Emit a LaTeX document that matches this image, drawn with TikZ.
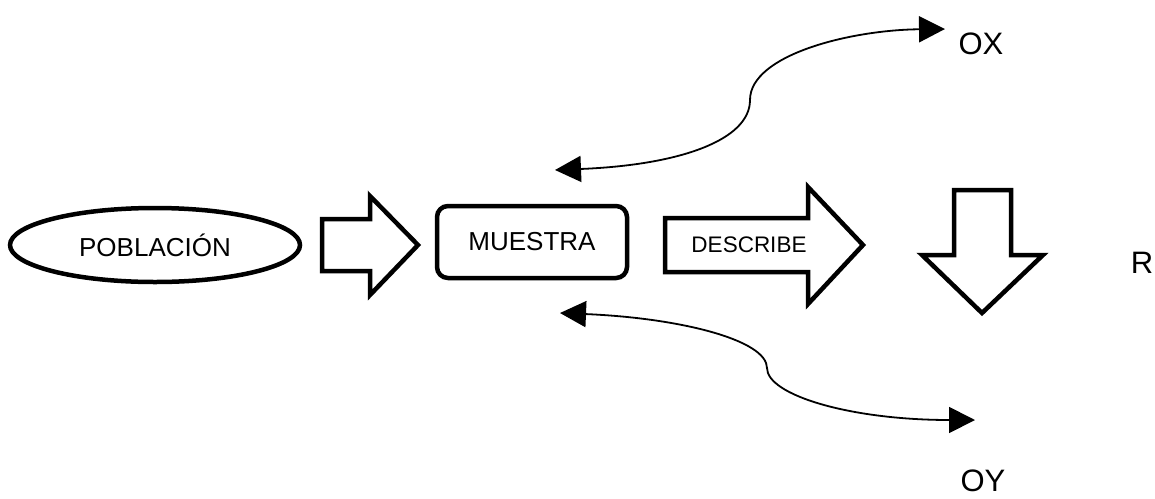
\documentclass[tikz,border=0pt]{standalone}
\usepackage{fontspec}
\setmainfont{Liberation Sans}
\usetikzlibrary{shapes.geometric,arrows.meta}
\begin{document}
\begin{tikzpicture}[x=1pt,y=-1pt,
  lbl/.style={font=\fontsize{26}{30}\selectfont, inner sep=0pt},
  big/.style={font=\fontsize{31}{36}\selectfont, inner sep=0pt},
  small/.style={font=\fontsize{22.5}{26}\selectfont, inner sep=0pt},
  blockarrow/.style={draw=black, line width=4.5pt, fill=white, line join=miter},
  link/.style={line width=1.8pt, {Triangle[length=26pt,width=26pt]}-{Triangle[length=26pt,width=26pt]}}]
\useasboundingbox (0,0) rectangle (1155,498);
% nodes
\node[ellipse, draw, line width=4.5pt, minimum width=290pt, minimum height=74pt, lbl] (pob) at (155,245) {POBLACIÓN};
\node[rectangle, rounded corners=11pt, draw, line width=4.5pt, minimum width=190pt, minimum height=72pt, lbl] (mue) at (532,242) {MUESTRA};
% block arrows
\draw[blockarrow] (322,219) -- (370,219) -- (370,196) -- (418,245) -- (370,295) -- (370,271) -- (322,271) -- cycle;
\draw[blockarrow] (665,218) -- (808,218) -- (808,187) -- (863,245) -- (808,304) -- (808,272) -- (665,272) -- cycle;
\node[small] (desc) at (749,245) {DESCRIBE};
\draw[blockarrow] (954,190) -- (1011,190) -- (1011,255) -- (1043,255) -- (982,313) -- (922,255) -- (954,255) -- cycle;
% labels
\node[big] (ox) at (981,44) {OX};
\node[big] (oy) at (983,481) {OY};
\node[big] (r) at (1142,263) {R};
% curved connectors
\coordinate (a1) at (555,170);
\coordinate (a2) at (945,29);
\coordinate (b1) at (560,313);
\coordinate (b2) at (975,420);
\draw[link] (a1) .. controls (680,165) and (750,140) .. (750,100) .. controls (750,55) and (850,30) .. (a2);
\draw[link] (b1) .. controls (680,318) and (767,340) .. (767,368) .. controls (767,395) and (850,420) .. (b2);
\end{tikzpicture}
\end{document}
